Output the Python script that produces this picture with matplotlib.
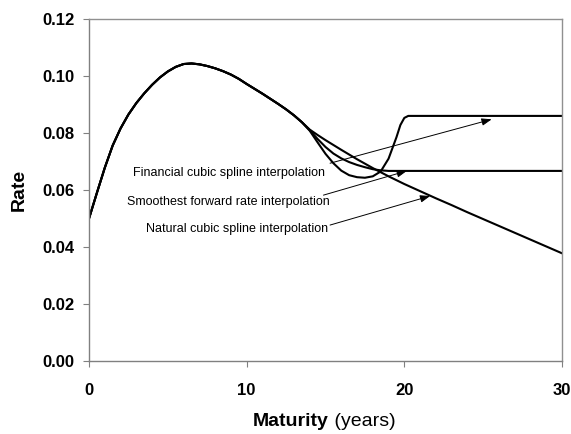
import matplotlib
matplotlib.use('Agg')
import matplotlib.pyplot as plt

plt.rcParams['font.family'] = ['Liberation Sans', 'DejaVu Sans']

# shared part of the curves (maturity in years, rate)
maturity_base = [0, 0.5, 1, 1.5, 2, 2.5, 3, 3.5, 4, 4.5, 5, 5.5, 6, 6.5, 7,
                 7.5, 8, 8.5, 9, 9.5, 10, 10.5, 11, 11.5, 12, 12.5, 13, 13.5]
rate_base = [0.0500, 0.0590, 0.0678, 0.0756, 0.0816, 0.0865, 0.0905, 0.0939,
             0.0969, 0.0995, 0.1016, 0.1032, 0.1042, 0.1044, 0.1041, 0.1035,
             0.1027, 0.1017, 0.1005, 0.0990, 0.0972, 0.0955, 0.0938, 0.0920,
             0.0902, 0.0883, 0.0862, 0.0838]

# tails where the three methods split
natural_t = [14, 14.5, 15, 16, 17, 18, 19, 20, 21, 22, 23, 24, 25, 26, 27, 28, 29, 30]
natural_r = [0.0812, 0.0793, 0.0775, 0.0741, 0.0708, 0.0677, 0.0648, 0.0621,
             0.0596, 0.0571, 0.0547, 0.0522, 0.0498, 0.0474, 0.0450, 0.0426,
             0.0402, 0.0378]

financial_t = [14, 14.5, 15, 15.5, 16, 16.5, 17, 17.5, 18, 18.5, 19, 19.5,
               19.75, 20, 20.25, 30]
financial_r = [0.0808, 0.0767, 0.0727, 0.0694, 0.0668, 0.0652, 0.0645, 0.0643,
               0.0648, 0.0665, 0.0710, 0.0785, 0.0828, 0.0853, 0.0860, 0.0860]

smoothest_t = [14, 14.5, 15, 15.5, 16, 16.5, 17, 17.5, 18, 18.5, 19, 30]
smoothest_r = [0.0810, 0.0779, 0.0751, 0.0728, 0.0711, 0.0698, 0.0688, 0.0680,
               0.0673, 0.0669, 0.0667, 0.0667]

# label text, text centre, arrow tail and arrow head
labels = ['Financial cubic spline interpolation',
          'Smoothest forward rate interpolation',
          'Natural cubic spline interpolation']
label_pos = [(8.88, 0.0658), (8.84, 0.0559), (9.42, 0.0462)]
arrow_tail = [(15.29, 0.0694), (14.87, 0.0582), (15.29, 0.0477)]
arrow_head = [(25.54, 0.0848), (20.16, 0.0667), (21.64, 0.0579)]

fig, ax = plt.subplots(figsize=(5.71, 4.34), dpi=100)
fig.subplots_adjust(left=0.1559, right=0.9842, bottom=0.1682, top=0.9562)

for t_tail, r_tail in [(natural_t, natural_r), (smoothest_t, smoothest_r),
                       (financial_t, financial_r)]:
    plt.plot(maturity_base + t_tail, rate_base + r_tail, color='black', lw=1.5)

for text, pos, tail, head in zip(labels, label_pos, arrow_tail, arrow_head):
    plt.text(pos[0], pos[1], text, ha='center', va='center', fontsize=9)
    plt.annotate('', xy=head, xytext=tail,
                 arrowprops=dict(arrowstyle='-|>,head_length=0.6,head_width=0.22',
                                 color='black', lw=0.7, shrinkA=0, shrinkB=0))

plt.xlim(0, 30)
plt.ylim(0, 0.12)
plt.xticks([0, 10, 20, 30])
plt.yticks([0, 0.02, 0.04, 0.06, 0.08, 0.10, 0.12],
           ['0.00', '0.02', '0.04', '0.06', '0.08', '0.10', '0.12'])
for lab in ax.get_xticklabels() + ax.get_yticklabels():
    lab.set_fontweight('bold')
    lab.set_fontsize(12)
ax.tick_params(axis='both', direction='out', length=4.5, color='#808080')
ax.tick_params(axis='y', pad=6)
ax.tick_params(axis='x', pad=11)
for sp in ax.spines.values():
    sp.set_color('#909090')
    sp.set_linewidth(1)
ax.spines['left'].set_color('#808080')
ax.spines['bottom'].set_color('#808080')

plt.ylabel('Rate', fontsize=14, fontweight='bold')
ax.yaxis.set_label_coords(-0.13, 0.5)
# x label is bold + regular, so two pieces
ax.text(0.5074, -0.19, 'Maturity', transform=ax.transAxes, ha='right',
        va='baseline', fontsize=14, fontweight='bold')
ax.text(0.5074, -0.19, ' (years)', transform=ax.transAxes, ha='left',
        va='baseline', fontsize=14)

plt.savefig('out.png', dpi=100)
